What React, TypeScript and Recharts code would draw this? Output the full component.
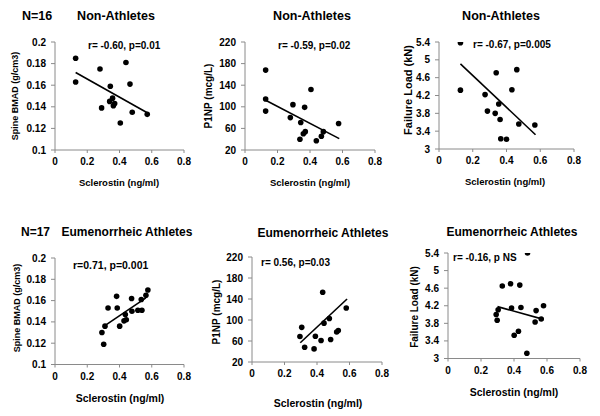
import React from 'react';
import { ScatterChart, Scatter, XAxis, YAxis } from 'recharts';

// sclerostin (ng/ml) on x for every panel
const X_TICKS = [0, 0.2, 0.4, 0.6, 0.8];
const BMAD_TICKS = [0.1, 0.12, 0.14, 0.16, 0.18, 0.2];
const P1NP_TICKS = [20, 60, 100, 140, 180, 220];
const LOAD_TICKS = [3, 3.4, 3.8, 4.2, 4.6, 5, 5.4];

// Non-athletes
const NA_BMAD_X = [0.128, 0.128, 0.279, 0.44, 0.465, 0.343, 0.357, 0.339, 0.37, 0.362, 0.289, 0.479, 0.572, 0.405];
const NA_BMAD_Y = [0.185, 0.163, 0.175, 0.181, 0.161, 0.159, 0.148, 0.145, 0.143, 0.141, 0.139, 0.135, 0.133, 0.125];
const NA_BMAD_FIT_X = [0.128, 0.572];
const NA_BMAD_FIT_Y = [0.1717, 0.1345];

const NA_P1NP_X = [0.127, 0.127, 0.127, 0.295, 0.279, 0.406, 0.367, 0.343, 0.338, 0.359, 0.371, 0.482, 0.47, 0.439, 0.576];
const NA_P1NP_Y = [168, 114.5, 92, 104, 80, 132, 99, 71, 40, 50, 54, 54, 45.5, 37, 69];
const NA_P1NP_FIT_X = [0.127, 0.58];
const NA_P1NP_FIT_Y = [112, 41];

const NA_LOAD_X = [0.127, 0.127, 0.339, 0.461, 0.432, 0.273, 0.354, 0.287, 0.333, 0.362, 0.473, 0.568, 0.366, 0.4];
const NA_LOAD_Y = [5.385, 4.32, 4.71, 4.78, 4.33, 4.22, 4.01, 3.85, 3.8, 3.66, 3.56, 3.54, 3.23, 3.22];
const NA_LOAD_FIT_X = [0.127, 0.572];
const NA_LOAD_FIT_Y = [4.91, 3.32];

// Eumenorrheic athletes
const EA_BMAD_X = [0.291, 0.302, 0.31, 0.329, 0.382, 0.386, 0.401, 0.428, 0.442, 0.436, 0.475, 0.477, 0.514, 0.539, 0.535, 0.564, 0.576];
const EA_BMAD_Y = [0.13, 0.119, 0.136, 0.153, 0.164, 0.153, 0.136, 0.141, 0.142, 0.147, 0.162, 0.15, 0.151, 0.151, 0.161, 0.165, 0.17];
const EA_BMAD_FIT_X = [0.3, 0.564];
const EA_BMAD_FIT_Y = [0.1355, 0.1626];

const EA_P1NP_X = [0.295, 0.306, 0.324, 0.382, 0.39, 0.425, 0.435, 0.443, 0.476, 0.484, 0.521, 0.531, 0.58];
const EA_P1NP_Y = [68.6, 86, 48, 45, 69, 61, 153, 94, 103, 63, 77, 80, 123];
const EA_P1NP_FIT_X = [0.297, 0.585];
const EA_P1NP_FIT_Y = [56.7, 140];

const EA_LOAD_X = [0.482, 0.329, 0.379, 0.435, 0.304, 0.292, 0.298, 0.385, 0.442, 0.534, 0.579, 0.528, 0.565, 0.427, 0.401, 0.478];
const EA_LOAD_Y = [5.4, 4.65, 4.7, 4.67, 4.11, 4.0, 3.87, 4.15, 4.16, 4.09, 4.2, 3.83, 3.9, 3.62, 3.53, 3.12];
const EA_LOAD_FIT_X = [0.3, 0.579];
const EA_LOAD_FIT_Y = [4.18, 3.89];

const FONT = '"Liberation Sans", Arial, sans-serif';
const AXIS = '#8a8a8a';

const zip = (xs: number[], ys: number[]) => xs.map((x, i) => ({ x, y: ys[i] }));

const Dot = (p: any) => <circle cx={p.cx} cy={p.cy} r={2.8} fill="#000" />;
const NoDot = () => <g />;

interface PanelProps {
  left: number; right: number; top: number; bottom: number;
  xs: number[]; ys: number[]; fitX: number[]; fitY: number[];
  yTicks: number[];
}

const YW = 45;
const PAD_T = 10;
const PAD_R = 12;
const XH = 24;

const Panel: React.FC<PanelProps> = ({ left, right, top, bottom, xs, ys, fitX, fitY, yTicks }) => {
  const width = right - left + YW + PAD_R;
  const height = bottom - top + PAD_T + XH;
  const tick = { fill: '#000', fontSize: 10, fontWeight: 700, fontFamily: FONT };
  return (
    <div style={{ position: 'absolute', left: left - YW, top: top - PAD_T }}>
      <ScatterChart width={width} height={height} margin={{ top: PAD_T, right: PAD_R, bottom: 0, left: 0 }}>
        <XAxis
          type="number"
          dataKey="x"
          domain={[0, 0.8]}
          ticks={X_TICKS}
          height={XH}
          stroke={AXIS}
          tickSize={3}
          tickMargin={5}
          tick={tick}
          allowDataOverflow
        />
        <YAxis
          type="number"
          dataKey="y"
          domain={[yTicks[0], yTicks[yTicks.length - 1]]}
          ticks={yTicks}
          width={YW}
          stroke={AXIS}
          tickSize={4}
          tickMargin={5}
          tick={tick}
          allowDataOverflow
        />
        <Scatter data={zip(xs, ys)} shape={Dot} isAnimationActive={false} />
        <Scatter
          data={zip(fitX, fitY)}
          shape={NoDot}
          line={{ stroke: '#000', strokeWidth: 1.6 }}
          lineType="joint"
          isAnimationActive={false}
        />
      </ScatterChart>
    </div>
  );
};

const Text: React.FC<{ x: number; y: number; size: number; children: React.ReactNode; align?: 'left' | 'center'; rotate?: boolean }> = ({ x, y, size, children, align = 'center', rotate }) => (
  <div
    style={{
      position: 'absolute',
      left: x,
      top: y,
      transform: `${align === 'center' ? 'translate(-50%, -50%)' : 'translate(0, -50%)'}${rotate ? ' rotate(-90deg)' : ''}`,
      fontFamily: FONT,
      fontWeight: 700,
      fontSize: size,
      whiteSpace: 'nowrap',
      color: '#000',
      lineHeight: 1,
    }}
  >
    {children}
  </div>
);

export default function App() {
  return (
    <div style={{ position: 'fixed', left: 0, top: 0, width: 600, height: 416, background: '#fff', overflow: 'hidden' }}>
      {/* top row: non-athletes */}
      <Text x={22} y={16} size={12.5} align="left">N=16</Text>
      <Text x={116} y={16} size={12.5}>Non-Athletes</Text>
      <Text x={312} y={16} size={12.5}>Non-Athletes</Text>
      <Text x={501} y={16} size={12.5}>Non-Athletes</Text>

      <Panel left={55} right={184} top={42} bottom={150} xs={NA_BMAD_X} ys={NA_BMAD_Y} fitX={NA_BMAD_FIT_X} fitY={NA_BMAD_FIT_Y} yTicks={BMAD_TICKS} />
      <Panel left={245} right={375} top={42} bottom={150} xs={NA_P1NP_X} ys={NA_P1NP_Y} fitX={NA_P1NP_FIT_X} fitY={NA_P1NP_FIT_Y} yTicks={P1NP_TICKS} />
      <Panel left={439} right={574} top={42} bottom={149} xs={NA_LOAD_X} ys={NA_LOAD_Y} fitX={NA_LOAD_FIT_X} fitY={NA_LOAD_FIT_Y} yTicks={LOAD_TICKS} />

      <Text x={88} y={46} size={10} align="left">r= -0.60, p=0.01</Text>
      <Text x={278} y={46} size={10} align="left">r= -0.59, p=0.02</Text>
      <Text x={473} y={45} size={10} align="left">r= -0.67, p=0.005</Text>

      <Text x={15} y={96} size={9} rotate>Spine BMAD (g/cm3)</Text>
      <Text x={209} y={96} size={10} rotate>P1NP (mcg/L)</Text>
      <Text x={408} y={90} size={11} rotate>Failure Load (kN)</Text>

      <Text x={119} y={183} size={9.5}>Sclerostin (ng/ml)</Text>
      <Text x={310} y={183} size={9.5}>Sclerostin (ng/ml)</Text>
      <Text x={505} y={182} size={9.5}>Sclerostin (ng/ml)</Text>

      {/* bottom row: eumenorrheic athletes */}
      <Text x={21} y={232} size={12} align="left">N=17</Text>
      <Text x={127} y={232} size={12}>Eumenorrheic Athletes</Text>
      <Text x={323} y={233} size={12}>Eumenorrheic Athletes</Text>
      <Text x={512} y={232} size={12}>Eumenorrheic Athletes</Text>

      <Panel left={55} right={184} top={257.5} bottom={364} xs={EA_BMAD_X} ys={EA_BMAD_Y} fitX={EA_BMAD_FIT_X} fitY={EA_BMAD_FIT_Y} yTicks={BMAD_TICKS} />
      <Panel left={252} right={382} top={257} bottom={362} xs={EA_P1NP_X} ys={EA_P1NP_Y} fitX={EA_P1NP_FIT_X} fitY={EA_P1NP_FIT_Y} yTicks={P1NP_TICKS} />
      <Panel left={448} right={580} top={252.5} bottom={358} xs={EA_LOAD_X} ys={EA_LOAD_Y} fitX={EA_LOAD_FIT_X} fitY={EA_LOAD_FIT_Y} yTicks={LOAD_TICKS} />

      <Text x={73} y={265} size={10.5} align="left">r=0.71, p=0.001</Text>
      <Text x={261} y={263} size={10} align="left">r= 0.56, p=0.03</Text>
      <Text x={453} y={258} size={10} align="left">r= -0.16, p NS</Text>

      <Text x={17} y={308} size={9} rotate>Spine BMAD (g/cm3)</Text>
      <Text x={217} y={312} size={10} rotate>P1NP (mcg/L)</Text>
      <Text x={415} y={307} size={10} rotate>Failure Load (kN)</Text>

      <Text x={120} y={398} size={10.5}>Sclerostin (ng/ml)</Text>
      <Text x={318} y={403} size={10.5}>Sclerostin (ng/ml)</Text>
      <Text x={514} y={392} size={10.5}>Sclerostin (ng/ml)</Text>
    </div>
  );
}
